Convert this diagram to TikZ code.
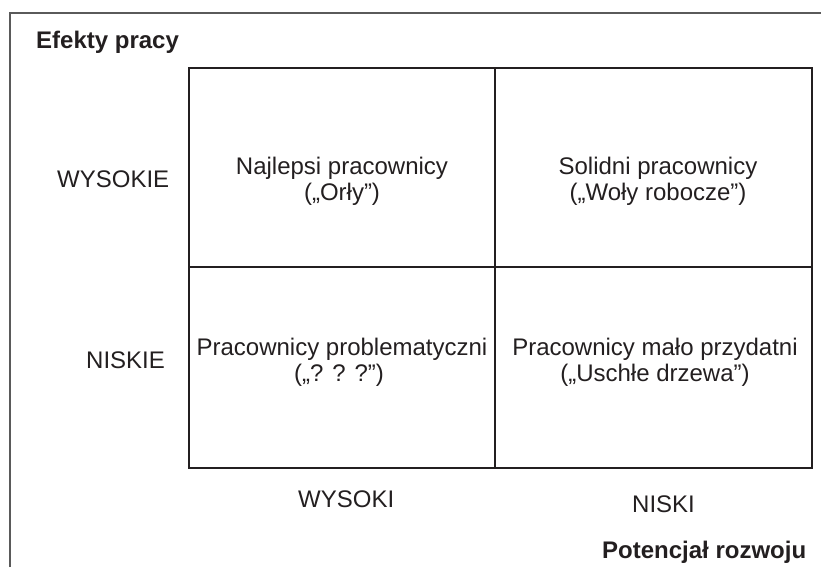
\documentclass[tikz,border=0pt]{standalone}
\usepackage{fontspec}
\setmainfont{Liberation Sans}
\definecolor{ink}{HTML}{231F20}
\definecolor{framegray}{HTML}{5A5A5A}
\begin{document}
\begin{tikzpicture}[x=1pt,y=-1pt,
  frameline/.style={draw=framegray, line width=2pt},
  cell/.style={draw=ink, line width=1.8pt, minimum width=306pt, minimum height=199pt, inner sep=0pt},
  cellb/.style={cell, minimum width=317pt},
  lbl/.style={text=ink, font=\fontsize{24}{28}\selectfont, inner sep=0pt},
  head/.style={lbl, font=\fontsize{24}{28}\selectfont\bfseries}]
\useasboundingbox (0,0) rectangle (821,567);

% open frame: left edge and top edge only
\coordinate (fb) at (10,567);
\coordinate (fc) at (10,13);
\coordinate (fr) at (821,13);
\draw[frameline] (fb) -- (fc) -- (fr);

% the four quadrants
\node[cell]  (hh) at (342,167.5) {};
\node[cellb] (hl) at (653.5,167.5) {};
\node[cell, minimum height=201pt]  (lh) at (342,367.5) {};
\node[cellb, minimum height=201pt] (ll) at (653.5,367.5) {};

% axis titles
\node[head, anchor=base west] (ytitle) at (36,49) {Efekty pracy};
\node[head, anchor=base west] (xtitle) at (602,558) {Potencjał rozwoju};

% row labels
\node[lbl, anchor=base west] (rowhi) at (57,187) {WYSOKIE};
\node[lbl, anchor=base west] (rowlo) at (86,368) {NISKIE};

% column labels
\node[lbl, anchor=base west] (colhi) at (298,507) {WYSOKI};
\node[lbl, anchor=base west] (collo) at (632,512) {NISKI};

% quadrant texts
\node[lbl, anchor=base] (hh1) at (342,174) {Najlepsi pracownicy};
\node[lbl, anchor=base] (hh2) at (342,200) {(„Orły”)};
\node[lbl, anchor=base] (hl1) at (658,174) {Solidni pracownicy};
\node[lbl, anchor=base] (hl2) at (658,200) {(„Woły robocze”)};
\node[lbl, anchor=base] (lh1) at (342,355) {Pracownicy problematyczni};
\node[lbl, anchor=base] (lh2) at (339,381) {(„? ? ?”)};
\node[lbl, anchor=base] (ll1) at (655,355) {Pracownicy mało przydatni};
\node[lbl, anchor=base] (ll2) at (655,381) {(„Uschłe drzewa”)};
\end{tikzpicture}
\end{document}
